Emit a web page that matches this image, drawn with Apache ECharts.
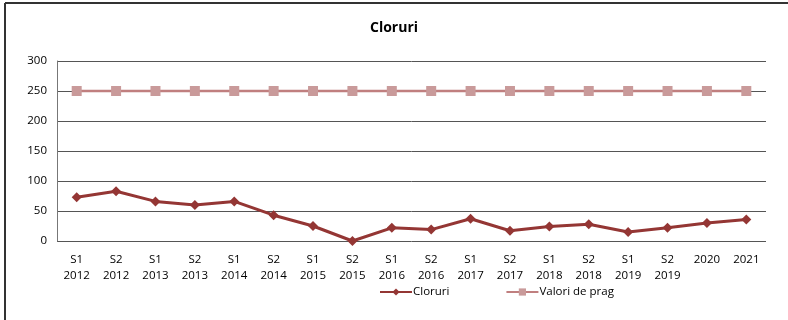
<!DOCTYPE html>
<html>
<head>
<meta charset="utf-8">
<script src="https://cdn.jsdelivr.net/npm/echarts@6/dist/echarts.min.js"></script>
<style>
  html, body { margin: 0; padding: 0; background: #fff; }
  #chart { width: 788px; height: 320px; }
</style>
</head>
<body>
<div id="chart"></div>
<script>
// Sampling periods (semesters, then yearly)
const periods = [
  'S1\n2012', 'S2\n2012', 'S1\n2013', 'S2\n2013', 'S1\n2014', 'S2\n2014',
  'S1\n2015', 'S2\n2015', 'S1\n2016', 'S2\n2016', 'S1\n2017', 'S2\n2017',
  'S1\n2018', 'S2\n2018', 'S1\n2019', 'S2\n2019', '2020', '2021'
];
// Measured chloride concentrations
const cloruri = [73, 83, 66, 60, 66, 43, 25, 0, 22, 19, 37, 17, 24, 28, 15, 22, 30, 36];
// Threshold values
const valoriPrag = [250, 250, 250, 250, 250, 250, 250, 250, 250, 250, 250, 250, 250, 250, 250, 250, 250, 250];
// Y axis range
const yMin = 0, yMax = 300, yStep = 50;

const fontFamily = '"Open Sans", "Noto Sans", sans-serif';
const chart = echarts.init(document.getElementById('chart'), null, { renderer: 'canvas' });

chart.setOption({
  backgroundColor: '#ffffff',
  animation: false,
  title: {
    text: 'Cloruri',
    left: 'center',
    top: 16,
    textStyle: { fontFamily, fontSize: 14, fontWeight: 'bold', color: '#000' }
  },
  legend: {
    bottom: 17,
    left: 374,
    itemGap: 56,
    itemWidth: 32,
    itemHeight: 9,
    textStyle: { fontFamily, fontSize: 11.5, color: '#000', padding: [0, 0, 0, -4] },
    data: ['Cloruri', 'Valori de prag']
  },
  grid: { left: 57, right: 22, top: 61, bottom: 79, containLabel: false },
  xAxis: {
    type: 'category',
    data: periods,
    boundaryGap: true,
    axisLine: { show: false },
    axisTick: { show: false },
    axisLabel: {
      fontFamily, fontSize: 11.5, color: '#000', lineHeight: 16, margin: 11, interval: 0
    }
  },
  yAxis: {
    type: 'value',
    min: yMin, max: yMax, interval: yStep,
    axisLine: { show: true, lineStyle: { color: '#777', width: 1 } },
    axisTick: { show: false },
    axisLabel: { fontFamily, fontSize: 11.5, color: '#000', margin: 10 },
    splitLine: { lineStyle: { color: '#555', width: 1 } }
  },
  series: [
    {
      name: 'Cloruri',
      type: 'line',
      data: cloruri,
      symbol: 'diamond',
      symbolSize: 10,
      lineStyle: { color: '#943634', width: 3 },
      itemStyle: { color: '#943634' },
      z: 3
    },
    {
      name: 'Valori de prag',
      type: 'line',
      data: valoriPrag,
      symbol: 'rect',
      symbolSize: 10,
      lineStyle: { color: '#c07f7f', width: 2.5 },
      itemStyle: { color: '#c99a9a' },
      z: 2
    }
  ],
  graphic: [
    { type: 'line', shape: { x1: 5, y1: 3, x2: 788, y2: 3 }, style: { stroke: '#333', lineWidth: 2 } },
    { type: 'line', shape: { x1: 5, y1: 3, x2: 5, y2: 320 }, style: { stroke: '#333', lineWidth: 2 } }
  ]
});
</script>
</body>
</html>
